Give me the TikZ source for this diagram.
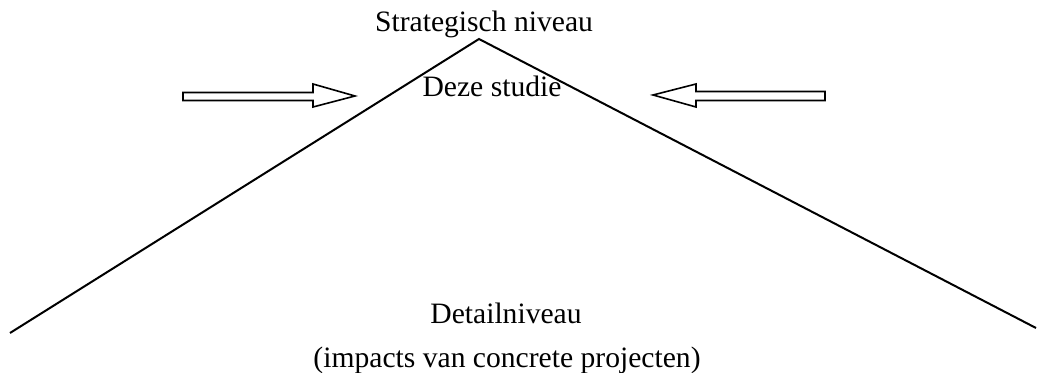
\documentclass[tikz,border=0pt]{standalone}
\usepackage{fontspec}
\setmainfont{Liberation Serif}
\begin{document}
\begin{tikzpicture}[x=0.5pt,y=-0.5pt,
  lbl/.style={anchor=base,inner sep=0pt,font=\fontsize{14.8pt}{17pt}\selectfont},
  edge/.style={line width=1pt},
  blockarrow/.style={draw,line width=0.8pt,fill=white,line join=miter}]
\useasboundingbox (0,0) rectangle (1037,373);
\coordinate (apex) at (479,39);
\coordinate (lend) at (10,333);
\coordinate (rend) at (1036,328);
\draw[edge] (lend) -- (apex) -- (rend);
\node[lbl] (top) at (484,32) {Strategisch niveau};
\node[lbl] (study) at (492,97) {Deze studie};
\node[lbl] (detail) at (506,323) {Detailniveau};
\node[lbl] (impacts) at (507,367) {(impacts van concrete projecten)};
% left block arrow
\draw[blockarrow] (183,92.5) -- (313,92.5) -- (313,84) -- (355,96) -- (313,107) -- (313,100.5) -- (183,100.5) -- cycle;
% right block arrow
\draw[blockarrow] (825,91.5) -- (696,91.5) -- (696,84) -- (653,95) -- (696,107) -- (696,100.5) -- (825,100.5) -- cycle;
\end{tikzpicture}
\end{document}
